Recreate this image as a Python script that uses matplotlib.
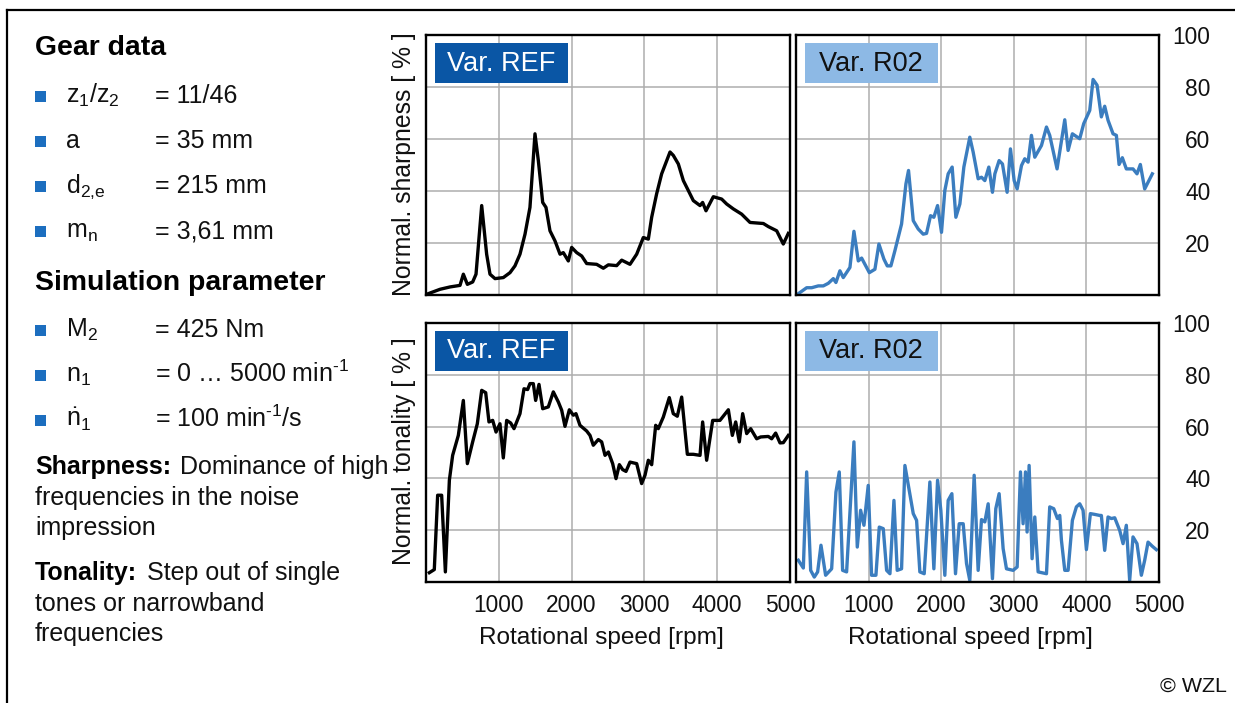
import numpy as np
import matplotlib
matplotlib.use('Agg')
import matplotlib.pyplot as plt
from matplotlib.patches import Rectangle
from matplotlib.lines import Line2D

plt.rcParams['font.family'] = ['Liberation Sans', 'DejaVu Sans']
plt.rcParams['mathtext.fontset'] = 'custom'
plt.rcParams['mathtext.rm'] = 'Liberation Sans'
plt.rcParams['mathtext.it'] = 'Liberation Sans:italic'
plt.rcParams['mathtext.bf'] = 'Liberation Sans:bold'

# sharpness, variant REF
sharp_ref_rpm = [30, 193, 330, 467, 513, 568, 641, 687, 765, 833, 879, 948, 1062, 1154, 1222,
                 1291, 1360, 1428, 1497, 1543, 1603, 1648, 1703, 1772, 1841, 1886, 1955, 2001,
                 2070, 2139, 2207, 2344, 2436, 2505, 2619, 2688, 2802, 2894, 2985, 3054, 3100,
                 3168, 3237, 3352, 3397, 3466, 3535, 3603, 3672, 3764, 3800, 3846, 3947, 4061,
                 4130, 4222, 4336, 4451, 4634, 4703, 4817, 4908, 4977]
sharp_ref = [0.5, 2.2, 3.1, 3.7, 8.0, 4.1, 5.0, 8.0, 34.4, 15.7, 8.0, 6.3, 6.7, 8.6, 11.2,
             15.7, 23.4, 33.7, 62.0, 51.7, 35.6, 33.7, 24.7, 20.8, 15.7, 16.3, 13.1, 18.3,
             16.3, 15.0, 12.1, 11.8, 10.3, 11.6, 11.3, 13.4, 11.8, 15.7, 22.1, 21.5, 29.9,
             38.9, 46.6, 55.0, 53.7, 50.4, 44.0, 40.2, 36.3, 34.4, 35.6, 32.4, 37.8, 36.9,
             35.0, 33.1, 31.1, 27.9, 27.5, 26.3, 24.7, 19.6, 23.7]

# sharpness, variant R02
sharp_r02_rpm = [32, 147, 216, 307, 376, 445, 514, 550, 605, 651, 743, 798, 858, 904, 1010,
                 1087, 1142, 1211, 1257, 1307, 1362, 1454, 1514, 1550, 1615, 1683, 1752, 1798,
                 1853, 1899, 1950, 2004, 2050, 2096, 2151, 2202, 2257, 2312, 2394, 2440, 2509,
                 2555, 2601, 2656, 2706, 2739, 2798, 2844, 2908, 2954, 3005, 3046, 3106, 3151,
                 3197, 3243, 3289, 3381, 3450, 3495, 3596, 3702, 3748, 3807, 3908, 3963, 4046,
                 4092, 4147, 4206, 4252, 4298, 4367, 4413, 4450, 4495, 4550, 4642, 4697, 4743,
                 4803, 4908]
sharp_r02 = [0.5, 2.8, 2.8, 3.5, 3.5, 4.5, 6.3, 4.8, 9.3, 6.7, 10.6, 24.5, 13.1, 14.2, 8.6,
             9.9, 19.6, 13.8, 11.2, 11.2, 17.0, 27.3, 42.7, 47.9, 28.6, 25.4, 23.4, 23.7,
             30.5, 29.9, 34.4, 24.1, 40.2, 46.6, 49.2, 29.9, 35.0, 49.2, 60.7, 55.0, 44.7,
             45.3, 44.0, 49.2, 39.5, 46.6, 51.7, 50.4, 39.5, 56.2, 44.0, 40.8, 49.8, 52.4,
             51.1, 61.4, 53.0, 57.5, 64.6, 61.4, 48.5, 67.4, 55.6, 62.0, 60.1, 65.9, 71.0,
             82.9, 80.7, 68.5, 72.6, 67.2, 62.0, 61.4, 50.2, 52.8, 48.5, 48.5, 46.6, 50.2,
             40.8, 46.6]

# tonality, variant REF
tonal_ref_rpm = [46, 114, 160, 215, 266, 321, 366, 444, 513, 568, 641, 705, 765, 820, 865,
                 916, 962, 1016, 1062, 1108, 1163, 1209, 1291, 1346, 1396, 1428, 1474, 1506,
                 1552, 1603, 1680, 1749, 1818, 1864, 1909, 1969, 2024, 2060, 2115, 2207, 2253,
                 2298, 2367, 2413, 2459, 2505, 2564, 2610, 2656, 2701, 2747, 2802, 2894, 2962,
                 3008, 3054, 3100, 3155, 3191, 3260, 3342, 3397, 3452, 3512, 3590, 3672, 3764,
                 3800, 3855, 3938, 4038, 4153, 4208, 4254, 4304, 4350, 4405, 4460, 4542, 4597,
                 4702, 4748, 4803, 4863, 4908, 4977]
tonal_ref = [3.6, 4.8, 33.5, 33.5, 3.9, 39.3, 48.9, 56.6, 70.1, 45.7, 54.1, 61.1, 74.0, 73.1,
             61.8, 62.4, 57.9, 61.1, 47.9, 62.4, 61.4, 59.2, 65.0, 74.6, 74.3, 76.6, 76.6,
             70.1, 76.3, 66.9, 67.6, 73.4, 69.5, 66.3, 60.1, 66.5, 64.4, 65.0, 60.5, 58.3,
             56.6, 52.8, 55.0, 54.1, 48.9, 50.2, 45.7, 39.9, 45.3, 43.4, 42.7, 46.3, 45.7,
             38.0, 41.2, 47.0, 45.3, 60.5, 59.2, 63.7, 71.2, 65.0, 64.0, 71.4, 49.3, 49.3,
             48.9, 61.8, 47.0, 62.4, 62.4, 66.5, 56.6, 61.8, 54.1, 65.0, 57.3, 59.2, 55.3,
             56.0, 56.2, 55.3, 57.5, 53.7, 53.8, 56.6]

# tonality, variant R02
tonal_r02_rpm = [32, 101, 147, 202, 252, 298, 344, 408, 491, 550, 596, 642, 697, 798, 844,
                 890, 936, 995, 1041, 1101, 1147, 1202, 1248, 1294, 1349, 1394, 1454, 1500,
                 1615, 1661, 1706, 1766, 1844, 1899, 1950, 1995, 2050, 2096, 2147, 2197, 2248,
                 2303, 2349, 2394, 2454, 2509, 2555, 2601, 2647, 2706, 2752, 2798, 2853, 2899,
                 2991, 3046, 3092, 3128, 3161, 3183, 3211, 3252, 3289, 3335, 3450, 3495, 3550,
                 3601, 3633, 3656, 3702, 3748, 3807, 3862, 3908, 3954, 4000, 4055, 4115, 4183,
                 4206, 4252, 4298, 4344, 4390, 4459, 4505, 4550, 4596, 4642, 4697, 4757, 4803,
                 4849, 4908, 4963]
tonal_r02 = [8.4, 5.4, 42.5, 4.5, 1.9, 3.9, 14.2, 2.6, 5.1, 34.7, 42.5, 4.5, 3.9, 54.1, 13.5,
             27.7, 21.9, 37.3, 2.6, 2.6, 21.2, 20.6, 4.5, 3.2, 31.5, 4.5, 5.1, 45.0, 26.4,
             23.8, 3.9, 3.2, 38.6, 5.1, 39.3, 27.7, 2.6, 31.5, 34.1, 3.2, 22.5, 22.5, 7.1,
             0.6, 41.2, 4.5, 24.1, 23.2, 30.2, 1.3, 28.3, 34.1, 12.9, 5.1, 4.5, 5.8, 42.5,
             22.5, 42.5, 19.3, 45.0, 9.0, 25.1, 3.9, 3.2, 29.0, 28.3, 24.5, 25.7, 16.1, 4.5,
             4.5, 23.8, 29.0, 30.2, 27.7, 12.5, 26.4, 26.1, 25.7, 25.7, 12.2, 25.1, 24.5,
             24.8, 19.9, 14.8, 21.9, 0.6, 17.4, 14.8, 2.6, 8.4, 15.4, 13.8, 12.5]

x_ticks = [1000, 2000, 3000, 4000, 5000]
y_ticks = [20, 40, 60, 80, 100]

W, H = 1235, 703
DARK_BLUE = '#0a56a5'
LIGHT_BLUE = '#8db9e5'
LINE_BLUE = '#3b7dbf'
BULLET_BLUE = '#1c6ebf'
TXT = '#111111'


def fx(px):
    return px / W


def fy(py):
    return 1 - py / H


fig = plt.figure(figsize=(W / 100, H / 100), dpi=100)


def make_panel(left, top, right, bottom):
    ax = fig.add_axes([fx(left), fy(bottom), (right - left) / W, (bottom - top) / H])
    ax.set_xlim(0, 5000)
    ax.set_ylim(0, 100)
    ax.set_xticks(x_ticks)
    ax.set_yticks(y_ticks)
    ax.grid(True, color='#adadad', lw=1.1)
    ax.set_axisbelow(True)
    ax.tick_params(length=0, labelsize=16.4, colors=TXT)
    for sp in ax.spines.values():
        sp.set_linewidth(1.7)
        sp.set_color('black')
    return ax


panels = {
    'sr': make_panel(426, 35, 790, 295),
    'sp': make_panel(796, 35, 1159, 295),
    'tr': make_panel(426, 323, 790, 582),
    'tp': make_panel(796, 323, 1159, 582),
}

panels['sr'].plot(sharp_ref_rpm, sharp_ref, color='black', lw=2.4)
panels['sp'].plot(sharp_r02_rpm, sharp_r02, color=LINE_BLUE, lw=2.4)
panels['tr'].plot(tonal_ref_rpm, tonal_ref, color='black', lw=2.4)
panels['tp'].plot(tonal_r02_rpm, tonal_r02, color=LINE_BLUE, lw=2.4)

for key, ax in panels.items():
    ax.tick_params(axis='x', labelbottom=key in ('tr', 'tp'), pad=8.5)
    if key in ('sp', 'tp'):
        ax.tick_params(axis='y', labelleft=False, labelright=True, pad=37)
        for lab in ax.get_yticklabels():
            lab.set_horizontalalignment('right')
    else:
        ax.tick_params(axis='y', labelleft=False)

    # variant tag in the upper left corner
    ref = key in ('sr', 'tr')
    ax.add_patch(Rectangle((0.025, 0.815), 0.365, 0.154, transform=ax.transAxes,
                           facecolor=DARK_BLUE if ref else LIGHT_BLUE, edgecolor='none',
                           zorder=3))
    ax.text(0.2075, 0.89, 'Var. REF' if ref else 'Var. R02', transform=ax.transAxes,
            ha='center', va='center', fontsize=19.5,
            color='white' if ref else TXT, zorder=4)

# axis titles
fig.text(fx(404), fy(164), 'Normal. sharpness [ % ]', rotation=90, ha='center', va='center',
         fontsize=17.8, color=TXT)
fig.text(fx(404), fy(451), 'Normal. tonality [ % ]', rotation=90, ha='center', va='center',
         fontsize=17.8, color=TXT)
for xc in (601, 970):
    fig.text(fx(xc), fy(638), 'Rotational speed [rpm]', ha='center', va='center',
             fontsize=17.6, color=TXT)

# left info column
fig.text(fx(35), fy(55), 'Gear data', fontsize=20.4, fontweight='bold', va='baseline')
fig.text(fx(35), fy(290), 'Simulation parameter', fontsize=20.4, fontweight='bold',
         va='baseline')

rows = [
    (103, r'$\mathrm{z_1/z_2}$', '= 11/46'),
    (148, 'a', '= 35 mm'),
    (193, r'$\mathrm{d_{2{,}e}}$', '= 215 mm'),
    (238, r'$\mathrm{m_n}$', '= 3,61 mm'),
    (337, r'$\mathrm{M_2}$', '= 425 Nm'),
    (382, r'$\mathrm{n_1}$', '= 0 … 5000 min$^{\\mathrm{\u20101}}$'),
    (427, r'$\dot{\mathrm{n}}_\mathrm{1}$', '= 100 min$^{\\mathrm{\u20101}}$/s'),
]
for base, sym, val in rows:
    fig.patches.append(Rectangle((fx(35), fy(base - 1)), 11 / W, 11 / H,
                                 transform=fig.transFigure, facecolor=BULLET_BLUE,
                                 edgecolor='none'))
    fig.text(fx(66), fy(base), sym, fontsize=18, va='baseline', color=TXT)
    fig.text(fx(155), fy(base), val, fontsize=18, va='baseline', color=TXT)

fig.text(fx(35), fy(474), 'Sharpness:', fontsize=18, fontweight='bold', va='baseline')
fig.text(fx(180), fy(474), 'Dominance of high', fontsize=18, va='baseline', color=TXT)
fig.text(fx(35), fy(505), 'frequencies in the noise', fontsize=18, va='baseline', color=TXT)
fig.text(fx(35), fy(535), 'impression', fontsize=18, va='baseline', color=TXT)

fig.text(fx(35), fy(580), 'Tonality:', fontsize=18, fontweight='bold', va='baseline')
fig.text(fx(147), fy(580), 'Step out of single', fontsize=18, va='baseline', color=TXT)
fig.text(fx(35), fy(611), 'tones or narrowband', fontsize=18, va='baseline', color=TXT)
fig.text(fx(35), fy(641), 'frequencies', fontsize=18, va='baseline', color=TXT)

fig.text(fx(1227), fy(686), '© WZL', fontsize=15.4, ha='right', va='center', color=TXT)

# outer frame: top and left edges only
fig.lines.append(Line2D([fx(7), 1], [fy(10), fy(10)], transform=fig.transFigure,
                        color='black', lw=1.6))
fig.lines.append(Line2D([fx(7), fx(7)], [fy(10), 0], transform=fig.transFigure,
                        color='black', lw=1.6))

fig.savefig('out.png', dpi=100, facecolor='white')
